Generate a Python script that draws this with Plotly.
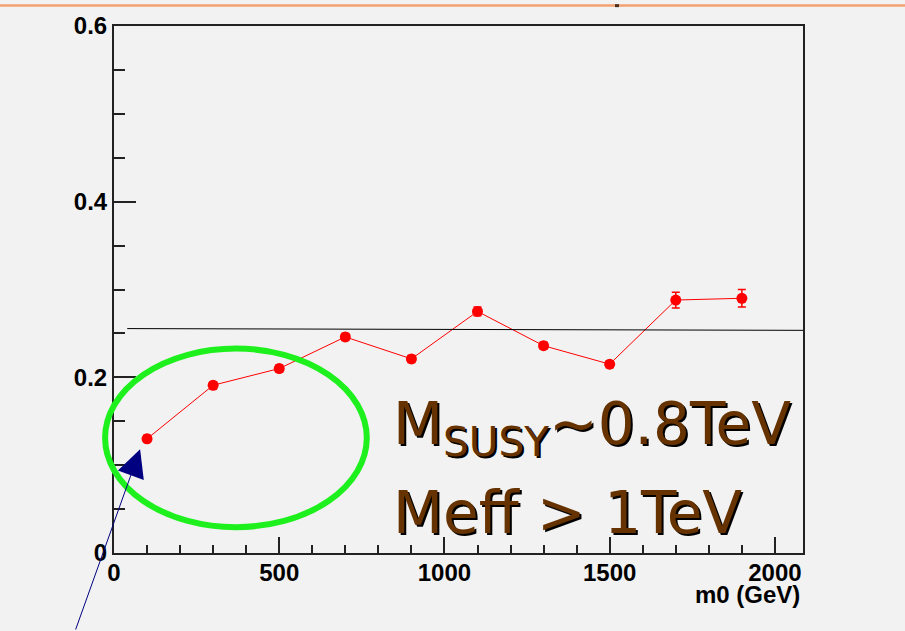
import plotly.graph_objects as go

# ---- data ----
m0 = [100, 300, 500, 700, 900, 1100, 1300, 1500, 1700, 1900]
ratio = [0.130, 0.191, 0.210, 0.246, 0.221, 0.275, 0.236, 0.215, 0.288, 0.290]
ratio_err = [0.004, 0.004, 0.004, 0.004, 0.004, 0.005, 0.004, 0.004, 0.009, 0.010]
fit_x = [40, 2085]
fit_y = [0.2555, 0.2535]
x_ticks = [0, 500, 1000, 1500, 2000]
y_ticks = [0, 0.2, 0.4, 0.6]
y_tick_labels = ["0", "0.2", "0.4", "0.6"]
x_range = [0, 2085]
y_range = [0, 0.6]

W, H = 905, 631
ML, MR, MT, MB = 114, 102, 22, 78
PW, PH = W - ML - MR, H - MT - MB


def px(xp):
    return (xp - ML) / PW


def py(yp):
    return (H - MB - yp) / PH


def dx(v):
    return (v - x_range[0]) / (x_range[1] - x_range[0])


def dy(v):
    return (v - y_range[0]) / (y_range[1] - y_range[0])


BG = "#f2f2f2"
tickfont = dict(family="Liberation Sans, Arial, sans-serif", size=24, color="black")

fig = go.Figure()
fig.add_trace(go.Scatter(
    x=m0, y=ratio, mode="lines+markers",
    line=dict(color="#ff0000", width=1),
    marker=dict(color="#ff0000", size=11),
    error_y=dict(type="data", array=ratio_err, color="#ff0000", thickness=1.5, width=4),
    showlegend=False,
))
fig.add_trace(go.Scatter(
    x=fit_x, y=fit_y, mode="lines", line=dict(color="black", width=1), showlegend=False,
))

shapes = [
    # green ellipse (paper coords so it may cross the axis)
    dict(type="circle", xref="paper", yref="paper",
         x0=dx(-27), x1=dx(765), y0=dy(0.0294), y1=dy(0.2328),
         line=dict(color="#1ef01e", width=6), layer="above"),
    # orange rule at top of slide
    dict(type="rect", xref="paper", yref="paper",
         x0=px(0), x1=px(905), y0=py(2.5), y1=py(0),
         fillcolor="#f5a070", line=dict(width=0)),
    dict(type="rect", xref="paper", yref="paper",
         x0=px(615), x1=px(619), y0=py(3), y1=py(0),
         fillcolor="#4a3020", line=dict(width=0)),
]

annotations = []
line1 = "M<sub>SUSY</sub>~0.8TeV"
line2 = "Meff &gt; 1TeV"
tfont = "DejaVu Sans, sans-serif"
for txt, ybase in [(line1, 467), (line2, 549)]:
    for col, sh in [("black", 2), ("#663300", 0)]:
        annotations.append(dict(
            text=txt, xref="paper", yref="paper", x=px(391), y=py(ybase),
            xanchor="left", yanchor="bottom", showarrow=False,
            xshift=sh, yshift=-sh,
            font=dict(family=tfont, size=58, color=col),
        ))

annotations.append(dict(
    text="<b>m0 (GeV)</b>", xref="paper", yref="paper", x=px(802), y=py(595),
    xanchor="right", yanchor="middle", showarrow=False, font=tickfont,
))
# navy arrow
annotations.append(dict(
    x=79, y=0.118, xref="x", yref="y", ax=-65, ay=183, text="",
    showarrow=True, arrowhead=2, arrowsize=5.5, arrowwidth=1, arrowcolor="#000080",
))

fig.update_layout(
    width=W, height=H, margin=dict(l=ML, r=MR, t=MT, b=MB),
    paper_bgcolor=BG, plot_bgcolor=BG,
    shapes=shapes, annotations=annotations,
    xaxis=dict(range=x_range, tickvals=x_ticks, ticktext=[str(v) for v in x_ticks],
               ticks="inside", ticklen=16, tickwidth=1.5, tickcolor="#222",
               minor=dict(dtick=100, ticks="inside", ticklen=8, tickwidth=1.5, tickcolor="#222"),
               showline=True, linecolor="#222", linewidth=2, mirror=True,
               showgrid=False, zeroline=False, ticklabelstandoff=-3,
               tickfont=dict(family=tickfont["family"], size=24, color="black", weight="bold")),
    yaxis=dict(range=y_range, tickvals=y_ticks, ticktext=y_tick_labels,
               ticks="inside", ticklen=22, tickwidth=1.5, tickcolor="#222",
               minor=dict(dtick=0.05, ticks="inside", ticklen=11, tickwidth=1.5, tickcolor="#222"),
               showline=True, linecolor="#222", linewidth=2, mirror=True,
               showgrid=False, zeroline=False,
               tickfont=dict(family=tickfont["family"], size=24, color="black", weight="bold")),
)

fig.write_html(
    "out.html",
    config={"displayModeBar": False},
    post_script="document.body.style.margin='0';document.body.style.padding='0';"
                "document.body.style.background='#f2f2f2';"
                "document.body.style.overflow='hidden';",
)
